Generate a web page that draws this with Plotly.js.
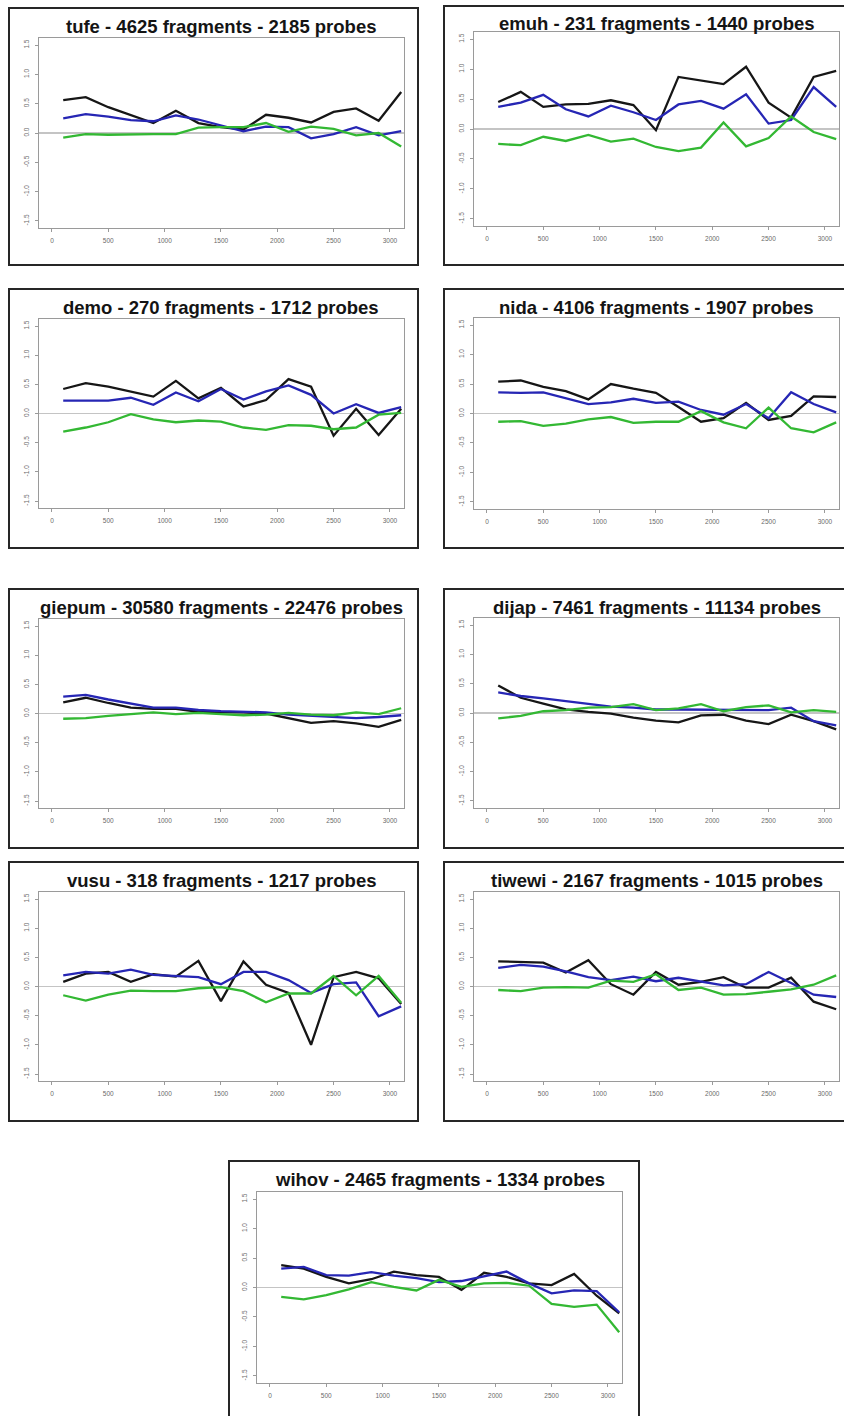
<!DOCTYPE html>
<html>
<head>
<meta charset="utf-8">
<script src="https://cdn.plot.ly/plotly-3.0.1.min.js"></script>
<style>
  html, body { margin: 0; padding: 0; background: #fff; }
  #chart { width: 844px; height: 1416px; }
</style>
</head>
<body>
<div id="chart"></div>
<script>
// ---------- DATA ----------
const positions = [100, 300, 500, 700, 900, 1100, 1300, 1500, 1700, 1900, 2100, 2300, 2500, 2700, 2900, 3100];

const panelNames = ["tufe", "emuh", "demo", "nida", "giepum", "dijap", "vusu", "tiwewi", "wihov"];
const fragmentCounts = [4625, 231, 270, 4106, 30580, 7461, 318, 2167, 2465];
const probeCounts = [2185, 1440, 1712, 1907, 22476, 11134, 1217, 1015, 1334];

const blackSeries = [
  [0.56, 0.61, 0.44, 0.30, 0.17, 0.38, 0.17, 0.10, 0.06, 0.31, 0.26, 0.18, 0.36, 0.42, 0.21, 0.70],
  [0.45, 0.62, 0.37, 0.41, 0.42, 0.48, 0.40, -0.02, 0.87, 0.81, 0.75, 1.04, 0.44, 0.19, 0.87, 0.97],
  [0.42, 0.52, 0.46, 0.38, 0.29, 0.56, 0.26, 0.44, 0.12, 0.23, 0.59, 0.46, -0.38, 0.08, -0.37, 0.08],
  [0.54, 0.56, 0.45, 0.38, 0.24, 0.50, 0.42, 0.35, 0.11, -0.14, -0.08, 0.18, -0.11, -0.04, 0.29, 0.28],
  [0.19, 0.27, 0.18, 0.10, 0.08, 0.08, 0.03, 0.03, 0.02, 0.00, -0.08, -0.16, -0.13, -0.17, -0.23, -0.11],
  [0.47, 0.26, 0.16, 0.06, 0.02, -0.01, -0.08, -0.13, -0.16, -0.04, -0.03, -0.13, -0.19, -0.03, -0.14, -0.28],
  [0.08, 0.22, 0.25, 0.08, 0.21, 0.17, 0.44, -0.25, 0.43, 0.03, -0.11, -1.00, 0.16, 0.25, 0.14, -0.30],
  [0.43, 0.42, 0.41, 0.24, 0.45, 0.04, -0.14, 0.25, 0.03, 0.08, 0.16, -0.02, -0.02, 0.15, -0.26, -0.39],
  [0.38, 0.32, 0.18, 0.07, 0.14, 0.27, 0.21, 0.18, -0.04, 0.25, 0.18, 0.07, 0.04, 0.23, -0.14, -0.44]
];

const blueSeries = [
  [0.25, 0.32, 0.28, 0.22, 0.20, 0.30, 0.23, 0.13, 0.03, 0.11, 0.10, -0.09, -0.02, 0.10, -0.04, 0.03],
  [0.37, 0.44, 0.57, 0.33, 0.21, 0.39, 0.28, 0.15, 0.41, 0.47, 0.34, 0.58, 0.09, 0.15, 0.70, 0.37],
  [0.22, 0.22, 0.22, 0.27, 0.15, 0.36, 0.21, 0.42, 0.24, 0.38, 0.48, 0.32, 0.00, 0.16, 0.01, 0.11],
  [0.36, 0.35, 0.36, 0.26, 0.16, 0.19, 0.25, 0.18, 0.20, 0.06, -0.02, 0.16, -0.08, 0.36, 0.16, 0.02],
  [0.29, 0.32, 0.24, 0.17, 0.10, 0.10, 0.06, 0.04, 0.03, 0.02, -0.02, -0.04, -0.06, -0.08, -0.06, -0.03],
  [0.35, 0.29, 0.25, 0.20, 0.15, 0.11, 0.09, 0.06, 0.06, 0.06, 0.05, 0.05, 0.05, 0.09, -0.14, -0.21],
  [0.19, 0.25, 0.22, 0.29, 0.20, 0.18, 0.16, 0.04, 0.25, 0.25, 0.11, -0.11, 0.04, 0.07, -0.51, -0.34],
  [0.32, 0.37, 0.34, 0.26, 0.16, 0.11, 0.17, 0.09, 0.15, 0.08, 0.02, 0.04, 0.25, 0.06, -0.14, -0.18],
  [0.32, 0.35, 0.21, 0.20, 0.26, 0.20, 0.16, 0.09, 0.11, 0.19, 0.27, 0.07, -0.10, -0.05, -0.06, -0.42]
];

const greenSeries = [
  [-0.08, -0.02, -0.03, -0.02, -0.02, -0.02, 0.09, 0.10, 0.10, 0.17, 0.02, 0.11, 0.07, -0.04, 0.00, -0.23],
  [-0.25, -0.27, -0.13, -0.20, -0.10, -0.21, -0.16, -0.30, -0.37, -0.31, 0.11, -0.29, -0.15, 0.21, -0.05, -0.17],
  [-0.31, -0.24, -0.15, -0.01, -0.10, -0.15, -0.12, -0.14, -0.24, -0.28, -0.20, -0.21, -0.27, -0.24, -0.02, 0.01],
  [-0.14, -0.13, -0.21, -0.17, -0.10, -0.06, -0.16, -0.14, -0.14, 0.04, -0.15, -0.25, 0.10, -0.25, -0.32, -0.15],
  [-0.09, -0.08, -0.04, -0.01, 0.02, -0.01, 0.01, -0.01, -0.03, -0.02, 0.01, -0.02, -0.03, 0.02, -0.01, 0.09],
  [-0.09, -0.05, 0.03, 0.05, 0.09, 0.10, 0.15, 0.05, 0.08, 0.15, 0.03, 0.10, 0.13, 0.01, 0.05, 0.02],
  [-0.15, -0.24, -0.14, -0.07, -0.08, -0.08, -0.03, -0.01, -0.08, -0.27, -0.12, -0.12, 0.18, -0.15, 0.18, -0.28],
  [-0.06, -0.08, -0.02, -0.01, -0.02, 0.10, 0.08, 0.21, -0.06, -0.02, -0.14, -0.13, -0.09, -0.05, 0.03, 0.19],
  [-0.16, -0.20, -0.13, -0.03, 0.09, 0.01, -0.05, 0.13, 0.01, 0.07, 0.08, 0.03, -0.28, -0.33, -0.29, -0.76]
];

const xTickValues = [0, 500, 1000, 1500, 2000, 2500, 3000];
const yTickValues = [-1.5, -1.0, -0.5, 0.0, 0.5, 1.0, 1.5];

// ---------- LAYOUT GEOMETRY (pixels in the 844x1416 page) ----------
const W = 844, H = 1416;
// plot area [left, top, right, bottom]
const plotBoxes = [
  [39, 38, 404, 228],
  [474, 32, 839, 226],
  [39, 319, 404, 508],
  [474, 318, 839, 509],
  [39, 619, 404, 808],
  [474, 618, 839, 808],
  [39, 892, 404, 1081],
  [474, 892, 839, 1081],
  [257, 1192, 622, 1383]
];
// outer black frame [left, top, right, bottom]
const frameBoxes = [
  [9, 8, 418, 265],
  [444, 6, 850, 265],
  [9, 289, 418, 548],
  [444, 289, 850, 548],
  [9, 589, 418, 848],
  [444, 589, 850, 848],
  [9, 862, 418, 1121],
  [444, 862, 850, 1121],
  [229, 1161, 639, 1425]
];

const px = v => v / W;
const py = v => 1 - v / H;

const colors = { black: '#161616', blue: '#2626b4', green: '#33b833' };

const traces = [];
const layout = {
  width: W, height: H,
  margin: { l: 0, r: 0, t: 0, b: 0, pad: 0 },
  paper_bgcolor: '#ffffff',
  plot_bgcolor: '#ffffff',
  showlegend: false,
  font: { family: 'Liberation Sans, Arial, sans-serif', color: '#666' },
  shapes: [],
  annotations: []
};

panelNames.forEach((name, i) => {
  const n = i + 1;
  const xa = n === 1 ? 'x' : 'x' + n;
  const ya = n === 1 ? 'y' : 'y' + n;
  const [l, t, r, b] = plotBoxes[i];
  const [fl, ft, fr, fb] = frameBoxes[i];

  const series = [
    [blackSeries[i], colors.black],
    [blueSeries[i], colors.blue],
    [greenSeries[i], colors.green]
  ];
  series.forEach(([vals, c]) => {
    traces.push({
      type: 'scatter', mode: 'lines',
      x: positions, y: vals,
      xaxis: xa, yaxis: ya,
      line: { color: c, width: 2.3 },
      hoverinfo: 'skip'
    });
  });

  const axCommon = {
    showline: true, mirror: true, linecolor: '#9a9a9a', linewidth: 1,
    showgrid: false,
    ticks: 'outside', ticklen: 3, tickwidth: 1, tickcolor: '#9a9a9a',
    tickfont: { size: 6.5, color: '#6a6a6a', family: 'Liberation Sans, Arial, sans-serif' },
    fixedrange: true
  };

  layout[n === 1 ? 'xaxis' : 'xaxis' + n] = Object.assign({}, axCommon, {
    domain: [px(l), px(r)],
    anchor: ya,
    range: [-115, 3125],
    tickmode: 'array', tickvals: xTickValues,
    ticktext: xTickValues.map(v => String(v)),
    zeroline: false,
    ticklabelstandoff: 3
  });
  layout[n === 1 ? 'yaxis' : 'yaxis' + n] = Object.assign({}, axCommon, {
    domain: [py(b), py(t)],
    anchor: xa,
    range: [-1.62, 1.62],
    tickmode: 'array', tickvals: yTickValues,
    ticktext: yTickValues.map(v => v.toFixed(1)),
    tickangle: -90,
    zeroline: true, zerolinecolor: '#c4c4c4', zerolinewidth: 1.2,
    ticklabelstandoff: 3
  });

  layout.shapes.push({
    type: 'rect', xref: 'paper', yref: 'paper',
    x0: px(fl), x1: px(fr), y0: py(fb), y1: py(ft),
    line: { color: '#262626', width: 2 },
    fillcolor: 'rgba(0,0,0,0)'
  });

  layout.annotations.push({
    xref: 'paper', yref: 'paper',
    x: px((l + r) / 2), y: py(ft + 18),
    xanchor: 'center', yanchor: 'middle',
    showarrow: false,
    text: '<b>' + name + ' - ' + fragmentCounts[i] + ' fragments - ' + probeCounts[i] + ' probes</b>',
    font: { family: 'Liberation Sans, Arial, sans-serif', size: 18.5, color: '#141414' }
  });
});

Plotly.newPlot('chart', traces, layout, { displayModeBar: false, staticPlot: true });
</script>
</body>
</html>
